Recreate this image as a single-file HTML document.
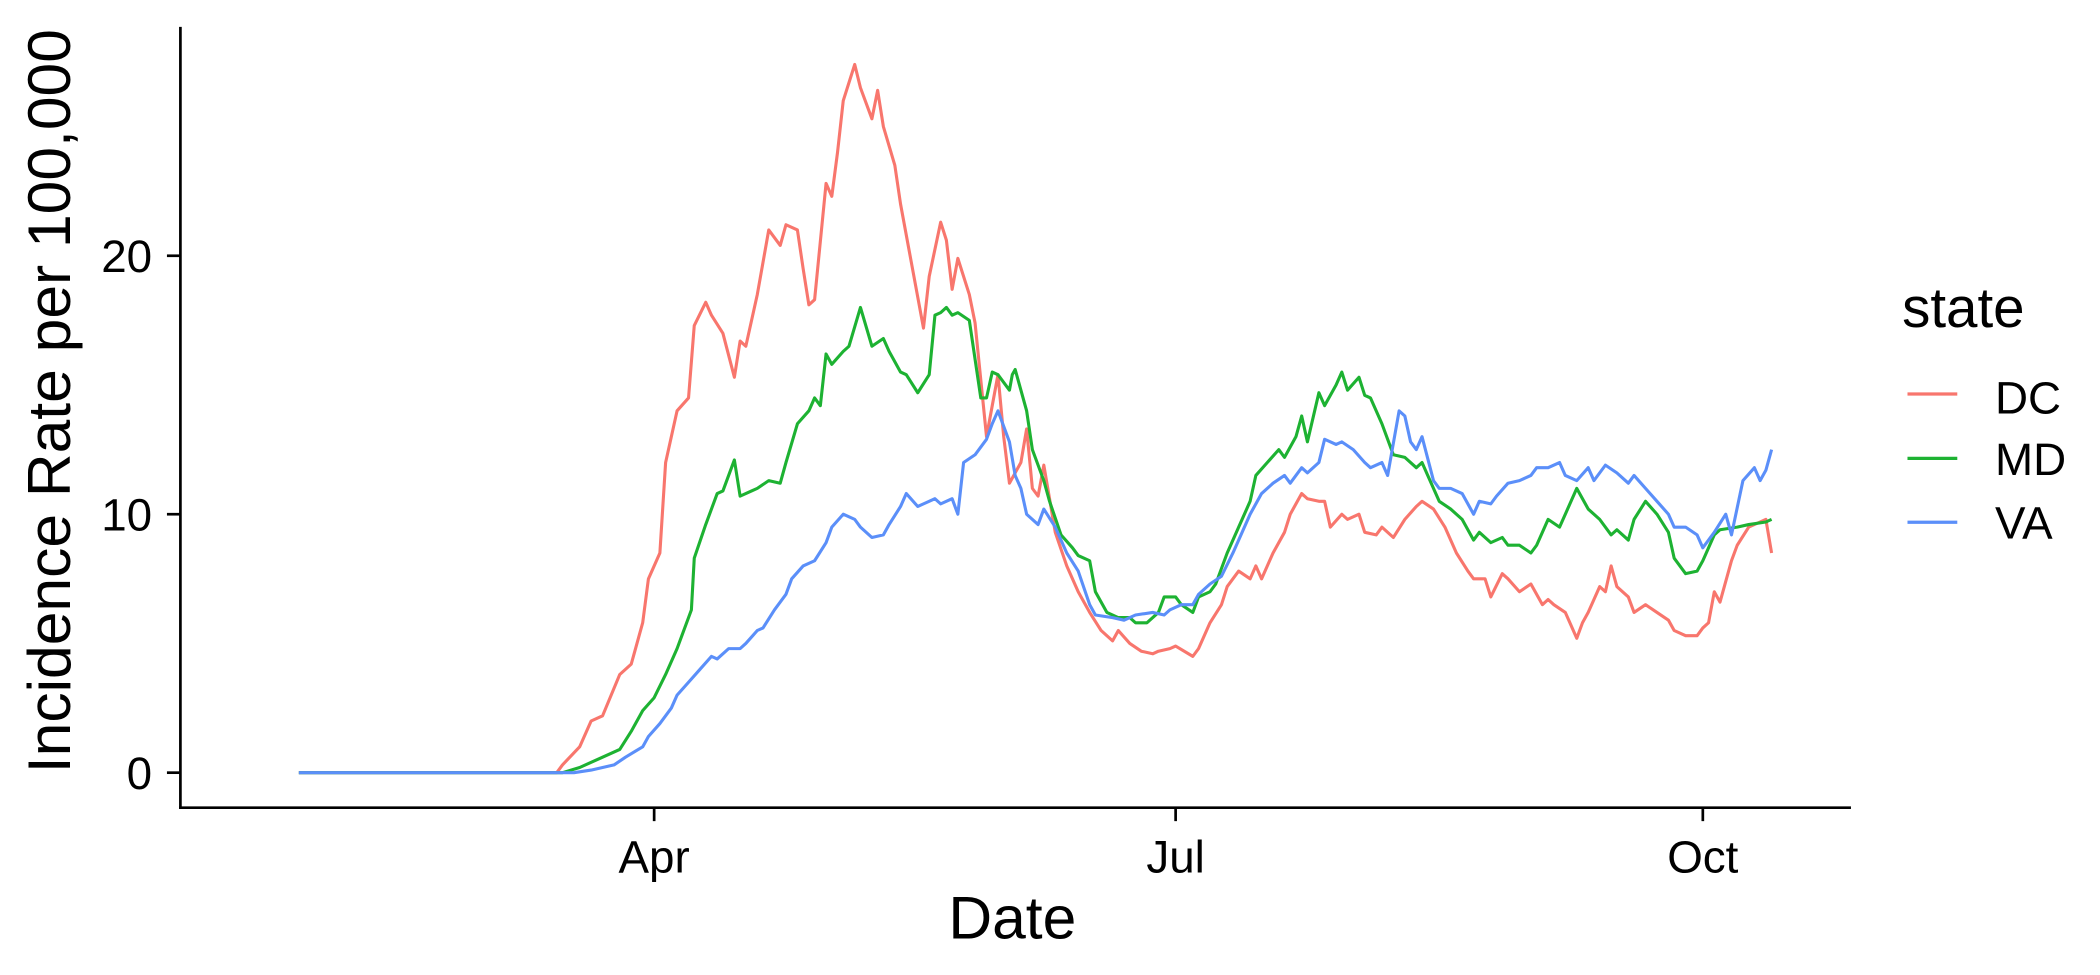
<!DOCTYPE html>
<html><head><meta charset="utf-8"><style>
html,body{margin:0;padding:0;background:#fff;}
svg{display:block;font-family:"Liberation Sans",Arial,sans-serif;}
</style></head><body>
<svg id="chart" width="2100" height="975" viewBox="0 0 1560 724.3" xmlns="http://www.w3.org/2000/svg">
<g id="series"></g>
<line x1="134" y1="20" x2="134" y2="601" stroke="#000" stroke-width="2"/>
<line x1="133" y1="600" x2="1375" y2="600" stroke="#000" stroke-width="2"/>
<g id="yticks"></g>
<g id="xticks"></g>
<text x="752" y="697" font-size="45" text-anchor="middle">Date</text>
<text transform="translate(52,298) rotate(-90)" font-size="45" text-anchor="middle">Incidence Rate per 100,000</text>
<g>
<text x="1413" y="243" font-size="42">state</text>
<g><line x1="1417" y1="292.7" x2="1454" y2="292.7" stroke="#F8766D" stroke-width="2.4"/><text x="1482" y="307" font-size="34">DC</text></g>
<g><line x1="1417" y1="340.5" x2="1454" y2="340.5" stroke="#1DB232" stroke-width="2.4"/><text x="1482" y="353" font-size="34">MD</text></g>
<g><line x1="1417" y1="388" x2="1454" y2="388" stroke="#5B8FF9" stroke-width="2.4"/><text x="1482" y="400" font-size="34">VA</text></g>
</g>
</svg>
<script>
// day offsets from 2020-01-30
const dayDC=[0,45,46,49,51,53,56,58,60,61,63,64,66,68,69,71,72,74,76,77,78,80,82,84,85,87,88,89,90,92,93,94,95,97,98,100,101,102,104,105,107,109,110,112,113,114,115,117,118,120,122,123,124,126,127,128,129,130,132,134,136,138,140,142,143,145,147,149,150,152,153,156,157,159,161,162,164,166,167,168,170,172,173,175,176,178,179,180,182,183,185,186,188,189,191,193,195,196,198,200,202,204,205,207,208,210,211,213,215,217,218,219,221,223,224,225,227,228,229,230,232,233,235,237,239,240,242,244,245,246,247,248,250,251,253,256,257];
const valDC=[0,0,0.3,1.0,2.0,2.2,3.8,4.2,5.8,7.5,8.5,12,14.0,14.5,17.3,18.2,17.7,17.0,15.3,16.7,16.5,18.5,21,20.4,21.2,21.0,19.5,18.1,18.3,22.8,22.3,24,26,27.4,26.5,25.3,26.4,25,23.5,22,19.6,17.2,19.2,21.3,20.6,18.7,19.9,18.5,17.4,13.0,15.4,13.0,11.2,12.0,13.3,11.0,10.7,11.9,9.3,8.0,7.0,6.2,5.5,5.1,5.5,5.0,4.7,4.6,4.7,4.8,4.9,4.5,4.8,5.8,6.5,7.2,7.8,7.5,8.0,7.5,8.5,9.3,10.0,10.8,10.6,10.5,10.5,9.5,10.0,9.8,10.0,9.3,9.2,9.5,9.1,9.8,10.3,10.5,10.2,9.5,8.5,7.8,7.5,7.5,6.8,7.7,7.5,7.0,7.3,6.5,6.7,6.5,6.2,5.2,5.8,6.2,7.2,7.0,8.0,7.2,6.8,6.2,6.5,6.2,5.9,5.5,5.3,5.3,5.6,5.8,7.0,6.6,8.2,8.8,9.5,9.8,8.5];
const dayMD=[0,46,49,53,56,58,60,62,64,66,68,68.5,69,71,73,74,76,77,79,80,82,84,85,87,89,90,91,92,93,95,96,98,100,102,103,105,106,108,110,111,112,113,114,115,117,119,120,121,122,124,124.5,125,127,128,130,131,133,135,136,138,139,141,143,145,146,148,150,151,153,154,156,157,159,160,162,164,166,167,169,171,172,174,175,176,178,179,181,182,183,185,186,187,189,191,193,195,196,197,199,201,203,205,206,208,210,211,213,215,216,218,220,221,223,225,227,229,230,232,233,235,237,239,240,242,244,245,247,248,251,253,256,257];
const valMD=[0,0,0.2,0.6,0.9,1.6,2.4,2.9,3.8,4.8,6.0,6.3,8.3,9.6,10.8,10.9,12.1,10.7,10.9,11.0,11.3,11.2,12.0,13.5,14.0,14.5,14.2,16.2,15.8,16.3,16.5,18.0,16.5,16.8,16.3,15.5,15.4,14.7,15.4,17.7,17.8,18.0,17.7,17.8,17.5,14.5,14.5,15.5,15.4,14.8,15.4,15.6,14.0,12.5,11.3,10.5,9.2,8.7,8.4,8.2,7.0,6.2,6.0,6.0,5.8,5.8,6.2,6.8,6.8,6.5,6.2,6.8,7.0,7.3,8.5,9.5,10.5,11.5,12.0,12.5,12.2,13.0,13.8,12.8,14.7,14.2,15.0,15.5,14.8,15.3,14.6,14.5,13.5,12.3,12.2,11.8,12.0,11.5,10.5,10.2,9.8,9.0,9.3,8.9,9.1,8.8,8.8,8.5,8.8,9.8,9.5,10.0,11.0,10.2,9.8,9.2,9.4,9.0,9.8,10.5,10.0,9.3,8.3,7.7,7.8,8.2,9.2,9.4,9.5,9.6,9.7,9.8];
const dayVA=[0,48,51,55,57,60,61,63,65,66,68,70,72,73,75,77,78,80,81,83,85,86,88,90,92,93,95,97,98,100,102,103,105,106,108,109,111,112,114,115,116,118,120,121,122,124,125,126,127,129,130,132,134,136,138,139,142,144,146,149,151,152,154,156,157,159,161,163,164,166,168,170,172,173,175,176,178,179,181,182,184,186,187,189,190,192,193,194,195,196,198,199,201,203,205,206,208,209,211,213,215,216,218,220,221,223,225,226,228,230,232,233,235,237,239,240,242,244,245,247,249,250,252,254,255,256,257];
const valVA=[0,0,0.1,0.3,0.6,1.0,1.4,1.9,2.5,3.0,3.5,4.0,4.5,4.4,4.8,4.8,5.0,5.5,5.6,6.3,6.9,7.5,8.0,8.2,8.9,9.5,10.0,9.8,9.5,9.1,9.2,9.6,10.3,10.8,10.3,10.4,10.6,10.4,10.6,10.0,12.0,12.3,12.9,13.5,14.0,12.8,11.5,11.0,10.0,9.6,10.2,9.5,8.5,7.8,6.5,6.1,6.0,5.9,6.1,6.2,6.1,6.3,6.5,6.5,6.9,7.3,7.6,8.5,9.0,10.0,10.8,11.2,11.5,11.2,11.8,11.6,12.0,12.9,12.7,12.8,12.5,12.0,11.8,12.0,11.5,14.0,13.8,12.8,12.5,13.0,11.3,11.0,11.0,10.8,10.0,10.5,10.4,10.7,11.2,11.3,11.5,11.8,11.8,12.0,11.5,11.3,11.8,11.3,11.9,11.6,11.2,11.5,11.0,10.5,10.0,9.5,9.5,9.2,8.7,9.3,10.0,9.2,11.3,11.8,11.3,11.7,12.5];
const yTicks=[0,10,20];
const xTickLabels=["Apr","Jul","Oct"];
const xTickDays=[62,153,245];

const NS="http://www.w3.org/2000/svg";
function xScale(d){return 222+d*4.257;}
function yScale(v){return 574-v*19.2;}
const series=document.getElementById('series');
function drawLine(days,vals,color,name){
  const p=document.createElementNS(NS,'path');
  let d='';
  for(let i=0;i<days.length;i++){d+=(i?'L':'M')+xScale(days[i]).toFixed(2)+','+yScale(vals[i]).toFixed(2);}
  p.setAttribute('d',d);
  p.setAttribute('fill','none');
  p.setAttribute('stroke',color);
  p.setAttribute('stroke-width','2.3');
  p.setAttribute('stroke-linejoin','round');
  
  
  series.appendChild(p);
}
drawLine(dayDC,valDC,'#F8766D','line-dc');
drawLine(dayMD,valMD,'#1DB232','line-md');
drawLine(dayVA,valVA,'#5B8FF9','line-va');
const yt=document.getElementById('yticks');
yTicks.forEach(v=>{
  const y=yScale(v);
  const l=document.createElementNS(NS,'line');
  l.setAttribute('x1',124);l.setAttribute('x2',134);l.setAttribute('y1',y);l.setAttribute('y2',y);
  l.setAttribute('stroke','#000');l.setAttribute('stroke-width','2');
  
  
  yt.appendChild(l);
  const t=document.createElementNS(NS,'text');
  t.setAttribute('x',113);t.setAttribute('y',y+12);t.setAttribute('font-size','34');t.setAttribute('text-anchor','end');
  t.textContent=v;
  
  
  yt.appendChild(t);
});
const xt=document.getElementById('xticks');
xTickDays.forEach((d,i)=>{
  const x=xScale(d);
  const l=document.createElementNS(NS,'line');
  l.setAttribute('x1',x);l.setAttribute('x2',x);l.setAttribute('y1',600);l.setAttribute('y2',610);
  l.setAttribute('stroke','#000');l.setAttribute('stroke-width','2');
  
  
  xt.appendChild(l);
  const t=document.createElementNS(NS,'text');
  t.setAttribute('x',x);t.setAttribute('y',648);t.setAttribute('font-size','34');t.setAttribute('text-anchor','middle');
  t.textContent=xTickLabels[i];
  
  
  xt.appendChild(t);
});
</script>
</body></html>
